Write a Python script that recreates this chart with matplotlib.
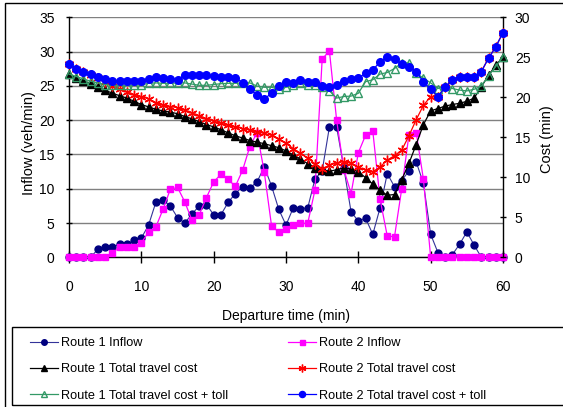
import numpy as np
import matplotlib
matplotlib.use("Agg")
import matplotlib.pyplot as plt
from matplotlib.patches import Rectangle

plt.rcParams['font.family'] = ['Liberation Sans', 'DejaVu Sans']

# departure time (min)
minutes = list(range(61))

# inflow (veh/min), left axis
r1_inflow = [0, 0, 0, 0, 1.2, 1.5, 1.5, 1.9, 1.9, 2.5, 2.8,
             4.7, 8.0, 8.35, 7.5, 5.8, 5.0, 6.3, 7.5, 7.7, 6.2,
             6.2, 8.0, 9.3, 10.3, 10.1, 11.0, 13.2, 10.4, 7.0, 4.7,
             7.2, 7.1, 7.2, 11.4, 12.6, 19.0, 19.0, 13.0, 6.6, 5.3,
             5.7, 3.35, 7.2, 12.2, 10.3, 11.2, 12.6, 13.9, 10.8, 3.35,
             0.7, 0, 0.4, 1.9, 3.7, 1.8, 0, 0, 0, 0]
r2_inflow = [0, 0, 0, 0, 0, 0, 0.6, 1.5, 1.5, 1.5, 2.1,
             3.7, 4.4, 7.0, 9.9, 10.2, 8.1, 5.4, 6.2, 8.7, 11.0,
             12.1, 11.35, 10.35, 12.7, 16.15, 18.2, 12.4, 4.6, 3.65, 4.2,
             4.7, 4.95, 4.95, 9.8, 28.9, 30.1, 20.0, 12.8, 9.3, 15.25,
             17.8, 18.4, 8.5, 3.1, 3.0, 10.0, 17.9, 18.2, 11.35, 0,
             0, 0, 0, 0, 0, 0, 0, 0, 0, 0]

# cost (min), right axis
r1_cost = [22.9, 22.4, 22.1, 21.7, 21.3, 20.9, 20.5, 20.2, 19.9, 19.5, 19.1,
           18.8, 18.5, 18.3, 18.15, 17.95, 17.6, 17.3, 16.95, 16.6, 16.3,
           15.95, 15.55, 15.2, 14.9, 14.6, 14.4, 14.2, 13.95, 13.7, 13.3,
           12.8, 12.3, 11.7, 11.2, 10.95, 10.75, 10.95, 11.2, 11.05, 10.7,
           9.95, 9.15, 8.4, 7.75, 7.85, 9.7, 11.75, 14.1, 16.6, 18.3,
           18.6, 18.9, 19.1, 19.25, 19.5, 19.9, 21.3, 22.75, 24.0, 25.05]
r2_cost = [24.2, 23.6, 23.2, 22.85, 22.45, 21.95, 21.4, 21.0, 20.7, 20.35, 20.1,
           19.8, 19.35, 19.0, 18.85, 18.7, 18.4, 18.05, 17.7, 17.35, 17.0,
           16.75, 16.5, 16.3, 16.1, 15.9, 15.7, 15.5, 15.25, 14.75, 14.25,
           13.6, 13.0, 12.4, 11.7, 11.1, 11.5, 11.8, 11.95, 11.75, 11.3,
           10.9, 10.7, 11.3, 12.15, 12.7, 13.4, 15.2, 17.2, 19.0, 20.1,
           20.1, 21.25, 22.2, 22.6, 22.6, 22.6, 23.2, 24.9, 26.3, 28.1]
r1_toll = [22.9, 22.6, 22.3, 22.0, 21.8, 21.6, 21.5, 21.5, 21.5, 21.5, 21.55,
           21.75, 21.8, 21.75, 21.75, 21.8, 21.8, 21.65, 21.5, 21.5, 21.6,
           21.7, 21.75, 21.75, 21.8, 21.8, 21.4, 21.25, 21.25, 21.0, 21.25,
           21.5, 21.8, 21.5, 21.5, 21.25, 20.8, 19.9, 20.1, 20.15, 20.5,
           21.95, 22.2, 22.9, 23.1, 23.6, 24.3, 24.3, 23.0, 22.4, 21.8,
           21.1, 21.4, 21.1, 20.9, 20.8, 21.0, 21.4, 22.7, 23.85, 25.05]
r2_toll = [24.2, 23.6, 23.2, 22.9, 22.5, 22.3, 22.0, 22.0, 22.0, 22.0, 22.1,
           22.3, 22.5, 22.4, 22.35, 22.2, 22.8, 22.8, 22.8, 22.8, 22.65,
           22.5, 22.5, 22.4, 21.85, 21.0, 20.3, 19.8, 20.5, 21.4, 21.9,
           21.8, 22.2, 21.95, 21.95, 21.4, 21.25, 21.5, 22.1, 22.3, 22.4,
           23.0, 23.4, 24.45, 25.0, 24.75, 24.2, 23.8, 23.2, 21.95, 21.0,
           20.1, 21.25, 22.2, 22.6, 22.6, 22.6, 23.2, 24.9, 26.3, 28.1]

W, H = 563, 407
fig = plt.figure(figsize=(W / 100, H / 100), dpi=100)

# plot area in pixels: x 69..503, y 17.3..257.3
ax = fig.add_axes([69 / W, 1 - 257.3 / H, 434 / W, 240 / H])
ax2 = ax.twinx()

l1, = ax.plot(minutes, r1_inflow, color='#333399', lw=0.8, marker='o', ms=5,
              mfc='#000080', mec='#000080', clip_on=False, zorder=3)
l2, = ax.plot(minutes, r2_inflow, color='#FF00FF', lw=0.9, marker='s', ms=4.5,
              mfc='#FF00FF', mec='#FF00FF', clip_on=False, zorder=4)

l3, = ax2.plot(minutes, r1_cost, color='black', lw=0.9, marker='^', ms=5.5,
               clip_on=False, zorder=3)
l4, = ax2.plot(minutes, r2_cost, color='red', lw=0.9, marker=(6, 2, 0), ms=7,
               mew=1, clip_on=False, zorder=4)
l5, = ax2.plot(minutes, r1_toll, color='#339966', lw=0.9, marker='^', ms=5.5,
               mfc='none', mec='#339966', mew=1, clip_on=False, zorder=5)
l6, = ax2.plot(minutes, r2_toll, color='#0000FF', lw=0.9, marker='o', ms=5.5,
               mfc='#0000FF', mec='#0000FF', clip_on=False, zorder=6)

ax.set_xlim(0, 60)
ax.set_ylim(0, 35)
ax2.set_ylim(0, 30)
ax.set_xticks(range(0, 61, 10))
ax.set_yticks(range(0, 36, 5))
ax2.set_yticks(range(0, 31, 5))

ax.yaxis.grid(True, color='#808080', lw=1)
ax.set_axisbelow(True)

for a in (ax, ax2):
    a.spines['top'].set_visible(False)
    for s in ('left', 'right', 'bottom'):
        a.spines[s].set_color('black')
        a.spines[s].set_linewidth(1)
ax.spines['right'].set_visible(False)
ax2.spines['left'].set_visible(False)
ax2.spines['bottom'].set_visible(False)

ax.tick_params(axis='x', direction='inout', length=8, width=1, pad=12, labelsize=10)
ax.tick_params(axis='y', direction='inout', length=5, width=1, pad=8, labelsize=10)
ax2.tick_params(axis='y', direction='inout', length=5, width=1, pad=6, labelsize=10)

fig.text(286 / W, 1 - 316 / H, 'Departure time (min)', ha='center', va='center', fontsize=10)
fig.text(29 / W, 1 - 143 / H, 'Inflow (veh/min)', ha='center', va='center',
         rotation=90, fontsize=10.5)
fig.text(547 / W, 1 - 139 / H, 'Cost (min)', ha='center', va='center',
         rotation=90, fontsize=10.5)

# outer chart frame and legend box
fig.patches.append(Rectangle((5 / W, -0.1), 1.2, 1.1 - 3 / H, transform=fig.transFigure,
                             fill=False, ec='black', lw=1))
fig.patches.append(Rectangle((12 / W, 1 - 405 / H), 1.2, 78 / H, transform=fig.transFigure,
                             fill=False, ec='black', lw=1))

leg_kw = dict(loc='upper left', frameon=False, fontsize=9.2, handlelength=2.2,
              handletextpad=0.25, labelspacing=1.12, borderpad=0, borderaxespad=0,
              markerscale=0.8)
fig.legend([l1, l3, l5],
           ['Route 1 Inflow', 'Route 1 Total travel cost', 'Route 1 Total travel cost + toll'],
           bbox_to_anchor=(30 / W, 1 - 337 / H), **leg_kw)
fig.legend([l2, l4, l6],
           ['Route 2 Inflow', 'Route 2 Total travel cost', 'Route 2 Total travel cost + toll'],
           bbox_to_anchor=(288 / W, 1 - 337 / H), **leg_kw)

fig.savefig('out.png', dpi=100)
